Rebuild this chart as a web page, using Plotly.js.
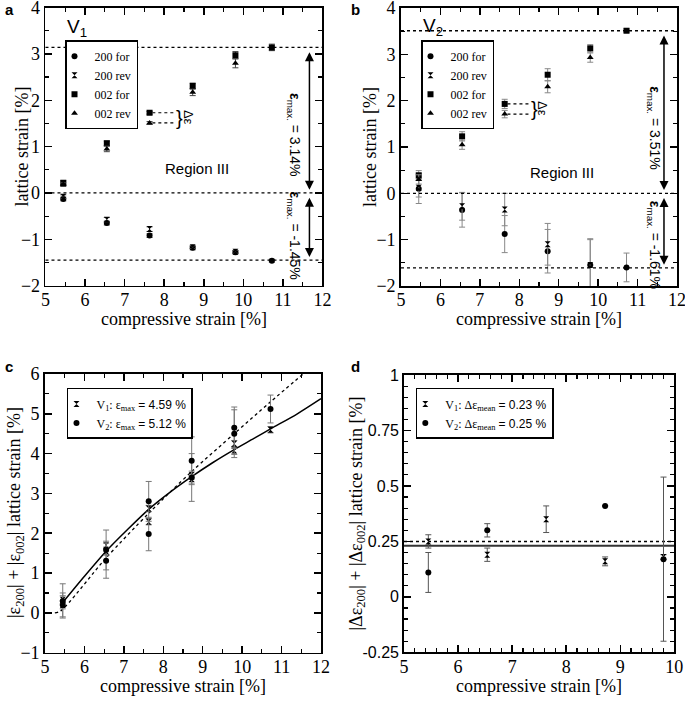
<!DOCTYPE html>
<html>
<head>
<meta charset="utf-8">
<script src="https://cdn.plot.ly/plotly-3.0.1.min.js"></script>
<style>html,body{margin:0;padding:0;background:#fff;}#chart{width:685px;height:704px;}</style>
</head>
<body>
<div id="chart"></div>
<script>
// ---------- data ----------
const strainX = [5.45, 6.55, 7.63, 8.72, 9.80, 10.72];
const strainXrev = [5.45, 6.55, 7.63, 8.72, 9.80];

// panel a (V1)
const a200for = [-0.13, -0.65, -0.92, -1.18, -1.28, -1.46];
const a200forErr = [0.04, 0.04, 0.04, 0.03, 0.03, 0.03];
const a200rev = [-0.08, -0.58, -0.78, -1.17, -1.27];
const a200revErr = [0.04, 0.05, 0.05, 0.03, 0.03];
const a002for = [0.22, 1.07, 1.73, 2.31, 2.97, 3.14];
const a002forErr = [0.04, 0.05, 0.03, 0.06, 0.08, 0.07];
const a002rev = [0.18, 0.95, 1.51, 2.17, 2.80];
const a002revErr = [0.04, 0.06, 0.03, 0.07, 0.10];

// panel b (V2)
const b200for = [0.10, -0.36, -0.88, -1.25, -1.55, -1.60];
const b200forErr = [0.32, 0.37, 0.40, 0.47, 0.55, 0.31];
const b200rev = [0.12, -0.28, -0.35, -1.10, -1.55];
const b200revErr = [0.20, 0.30, 0.35, 0.45, 0.57];
const b002for = [0.39, 1.23, 1.93, 2.56, 3.13, 3.51];
const b002forErr = [0.10, 0.10, 0.10, 0.13, 0.08, 0.04];
const b002rev = [0.30, 1.05, 1.71, 2.30, 2.93];
const b002revErr = [0.10, 0.10, 0.08, 0.13, 0.10];

// reference values (epsilon max)
const aMax = [3.14, 0, -1.45];
const bMax = [3.51, 0, -1.61];

// panel c: |e200|+|e002|
const cX = [5.45, 5.45, 6.55, 6.55, 7.63, 7.63, 8.72, 8.72, 9.80, 9.80, 10.72];
const cV1 = [0.33, 0.20, 1.70, 1.55, 2.62, 2.29, 3.46, 3.36, 4.25, 4.08, 4.60];
const cV1Err = [0.10, 0.10, 0.10, 0.10, 0.08, 0.08, 0.10, 0.10, 0.08, 0.10, 0.08];
const cV2 = [0.30, 0.20, 1.58, 1.31, 2.80, 1.98, 3.82, 3.40, 4.65, 4.50, 5.12];
const cV2Err = [0.43, 0.30, 0.50, 0.44, 0.50, 0.42, 0.60, 0.60, 0.52, 0.60, 0.35];
const fitV1x = [5.40, 6.00, 6.55, 7.10, 7.63, 8.20, 8.72, 9.25, 9.80, 10.30, 10.72, 11.40, 12.00];
const fitV1y = [0.20, 0.92, 1.55, 2.10, 2.60, 3.05, 3.42, 3.77, 4.10, 4.38, 4.62, 5.00, 5.38];
const fitV2x = [5.25, 5.40, 6.55, 7.63, 8.72, 9.80, 10.72, 11.55];
const fitV2y = [0.00, 0.05, 1.38, 2.50, 3.55, 4.50, 5.30, 6.00];

// panel d: |de200|+|de002|
const dX = [5.45, 6.54, 7.63, 8.72, 9.80];
const dV1 = [0.25, 0.19, 0.35, 0.16, 0.18];
const dV1Err = [0.03, 0.03, 0.06, 0.02, 0.01];
const dV2 = [0.11, 0.30, 0.84, 0.41, 0.17];
const dV2Err = [0.09, 0.03, 0.08, 0.00, 0.37];
const dMean = [0.23, 0.25];

const dTickVals = [-0.25, 0, 0.25, 0.5, 0.75, 1];
const dTickText = ['-0.25', '0', '0.25', '0.5', '0.75', '1'];

// ---------- styling ----------
const serif = 'Liberation Serif';
const sans = 'Liberation Sans';

function err(arr, color) {
  return {type: 'data', array: arr, visible: true, color: color, thickness: 1, width: 3};
}
function pts(x, y, e, sym, name, xa, ya, leg, ecol, size) {
  return {x: x, y: y, type: 'scatter', mode: 'markers', name: name, xaxis: xa, yaxis: ya, legend: leg,
    marker: {symbol: sym, size: size || 6, color: 'black', line: {width: 0}},
    error_y: err(e, ecol)};
}

const traces = [
  pts(strainX, a200for, a200forErr, 'circle', '200 for', 'x', 'y', 'legend', '#444'),
  pts(strainXrev, a200rev, a200revErr, 'hourglass', '200 rev', 'x', 'y', 'legend', '#444'),
  pts(strainX, a002for, a002forErr, 'square', '002 for', 'x', 'y', 'legend', '#444'),
  pts(strainXrev, a002rev, a002revErr, 'triangle-up', '002 rev', 'x', 'y', 'legend', '#444'),

  pts(strainX, b200for, b200forErr, 'circle', '200 for', 'x2', 'y2', 'legend2', '#888'),
  pts(strainXrev, b200rev, b200revErr, 'hourglass', '200 rev', 'x2', 'y2', 'legend2', '#888'),
  pts(strainX, b002for, b002forErr, 'square', '002 for', 'x2', 'y2', 'legend2', '#888'),
  pts(strainXrev, b002rev, b002revErr, 'triangle-up', '002 rev', 'x2', 'y2', 'legend2', '#888'),

  {x: fitV1x, y: fitV1y, type: 'scatter', mode: 'lines', line: {shape: 'spline', smoothing: 0.8, color: 'black', width: 1.5}, xaxis: 'x3', yaxis: 'y3', showlegend: false},
  {x: fitV2x, y: fitV2y, type: 'scatter', mode: 'lines', line: {shape: 'spline', smoothing: 0.8, color: 'black', width: 1.3, dash: '3px,3px'}, xaxis: 'x3', yaxis: 'y3', showlegend: false},
  pts(cX, cV1, cV1Err, 'hourglass', 'V<sub>1</sub>: ε<sub>max</sub> <span style="font-family:Liberation Sans">= 4.59 %</span>', 'x3', 'y3', 'legend3', '#777'),
  pts(cX, cV2, cV2Err, 'circle', 'V<sub>2</sub>: ε<sub>max</sub> <span style="font-family:Liberation Sans">= 5.12 %</span>', 'x3', 'y3', 'legend3', '#777'),

  {x: [5, 10], y: [dMean[0], dMean[0]], type: 'scatter', mode: 'lines', line: {color: '#333', width: 2}, xaxis: 'x4', yaxis: 'y4', showlegend: false},
  {x: [5, 10], y: [dMean[1], dMean[1]], type: 'scatter', mode: 'lines', line: {color: 'black', width: 1.5, dash: '3px,3px'}, xaxis: 'x4', yaxis: 'y4', showlegend: false},
  pts(dX, dV1, dV1Err, 'hourglass', 'V<sub>1</sub>: Δε<sub>mean</sub> <span style="font-family:Liberation Sans">= 0.23 %</span>', 'x4', 'y4', 'legend4', '#555'),
  pts(dX, dV2, dV2Err, 'circle', 'V<sub>2</sub>: Δε<sub>mean</sub> <span style="font-family:Liberation Sans">= 0.25 %</span>', 'x4', 'y4', 'legend4', '#555')
];

function axis(domain, range, dtick, minor, anchor, extra) {
  const ax = {
    domain: domain, range: range, dtick: dtick, tick0: 0, anchor: anchor,
    showline: true, linecolor: 'black', linewidth: 1.8, mirror: 'ticks',
    ticks: 'inside', ticklen: 7, tickwidth: 1.5, tickcolor: 'black',
    minor: {ticks: 'inside', dtick: minor, ticklen: 4, tickwidth: 1.2, tickcolor: 'black', showgrid: false},
    showgrid: false, zeroline: false, ticklabeloverflow: 'allow',
    tickfont: {family: serif, size: 18, color: 'black'}
  };
  return Object.assign(ax, extra || {});
}
const xExtra = {ticklabelstandoff: -3};

const layout = {
  width: 685, height: 704, autosize: false,
  margin: {l: 0, r: 0, t: 0, b: 0},
  font: {family: serif, color: 'black'},
  paper_bgcolor: 'white', plot_bgcolor: 'white',
  xaxis: axis([0.0664, 0.4708], [5, 12], 1, 0.5, 'y', xExtra),
  yaxis: axis([0.5942, 0.9893], [-2, 4], 1, 0.5, 'x'),
  xaxis2: axis([0.5854, 0.9883], [5, 12], 1, 0.5, 'y2', xExtra),
  yaxis2: axis([0.5938, 0.9886], [-2, 4], 1, 0.5, 'x2'),
  xaxis3: axis([0.0657, 0.4686], [5, 12], 1, 0.5, 'y3', xExtra),
  yaxis3: axis([0.0729, 0.4688], [-1, 6], 1, 0.5, 'x3'),
  xaxis4: axis([0.5898, 0.9844], [5, 10], 1, 0.2, 'y4', xExtra),
  yaxis4: axis([0.0734, 0.4673], [-0.25, 1], 0.25, 0.05, 'x4',
    {tickmode: 'array', tickvals: dTickVals, ticktext: dTickText, tickfont: {family: sans, size: 16, color: 'black'}}),
  shapes: [],
  annotations: []
};
const legBase = {xanchor: 'left', yanchor: 'top', bordercolor: 'black', borderwidth: 1.5, bgcolor: 'white',
  font: {family: serif, size: 12, color: 'black'}, tracegroupgap: 0, indentation: -12, itemwidth: 30};
layout.legend = Object.assign({x: 0.0949, y: 0.943}, legBase);
layout.legend2 = Object.assign({x: 0.6146, y: 0.943}, legBase);
layout.legend3 = Object.assign({x: 0.0978, y: 0.449}, legBase);
layout.legend4 = Object.assign({x: 0.607, y: 0.449}, legBase);

// axis titles
const xTitle = 'compressive strain [%]';
[[xTitle, 184, 319, 0], [xTitle, 539, 319, 0], [xTitle, 183, 686, 0], [xTitle, 539, 686, 0],
 ['lattice strain [%]', 21, 146.5, -90],
 ['lattice strain [%]', 370, 147, -90],
 ['|ε<sub>200</sub>| + |ε<sub>002</sub>| lattice strain [%]', 15, 513, -90],
 ['|Δε<sub>200</sub>| + |Δε<sub>002</sub>| lattice strain [%]', 357, 513.5, -90]].forEach(t => {
  layout.annotations.push({xref: 'paper', yref: 'paper', x: t[1] / 685, y: 1 - t[2] / 704, xanchor: 'center', yanchor: 'middle',
    text: t[0], textangle: t[3], showarrow: false, font: {family: serif, size: 18, color: 'black'}});
});

// reference dotted lines
aMax.forEach(v => layout.shapes.push({type: 'line', xref: 'x domain', yref: 'y', x0: 0, x1: 1, y0: v, y1: v, line: {color: 'black', width: 1.3, dash: '3px,3px'}}));
bMax.forEach(v => layout.shapes.push({type: 'line', xref: 'x2 domain', yref: 'y2', x0: 0, x1: 1, y0: v, y1: v, line: {color: 'black', width: 1.3, dash: '3px,3px'}}));

// delta epsilon markers
function deltaEps(xr, yr, xs, top, bot) {
  layout.shapes.push({type: 'line', xref: xr, yref: yr, x0: xs + 0.07, x1: 8.3, y0: top, y1: top, line: {color: 'black', width: 1.2, dash: 'dot'}});
  layout.shapes.push({type: 'line', xref: xr, yref: yr, x0: xs + 0.07, x1: 8.3, y0: bot, y1: bot, line: {color: 'black', width: 1.2, dash: 'dot'}});
  layout.annotations.push({xref: xr, yref: yr, x: 8.38, y: (top + bot) / 2, text: '}', showarrow: false, font: {family: sans, size: 20, color: 'black'}});
  layout.annotations.push({xref: xr, yref: yr, x: 8.6, y: (top + bot) / 2, text: 'Δε', textangle: 90, showarrow: false, font: {family: sans, size: 13, color: 'black'}});
}
deltaEps('x', 'y', strainX[2], a002for[2], a002rev[2]);
deltaEps('x2', 'y2', strainX[2], b002for[2], b002rev[2]);

// double arrows
function dblArrow(xr, yr, x, y0, y1) {
  layout.annotations.push({xref: xr, yref: yr, axref: xr, ayref: yr, x: x, y: y1, ax: x, ay: y0, text: '',
    showarrow: true, arrowhead: 2, startarrowhead: 2, arrowside: 'end+start', arrowsize: 1.2, startarrowsize: 1.2, arrowwidth: 1.5, arrowcolor: 'black'});
}
dblArrow('x', 'y', 11.67, aMax[0] - 0.07, aMax[1] + 0.07);
dblArrow('x', 'y', 11.67, aMax[1] - 0.07, aMax[2] + 0.07);
dblArrow('x2', 'y2', 11.67, bMax[0] - 0.07, bMax[1] + 0.07);
dblArrow('x2', 'y2', 11.67, bMax[1] - 0.07, bMax[2] + 0.07);

function rotText(xr, yr, x, y, txt) {
  layout.annotations.push({xref: xr, yref: yr, x: x, y: y, text: txt, textangle: 90, showarrow: false,
    font: {family: sans, size: 14, color: 'black'}});
}
rotText('x', 'y', 11.28, 1.25, '<b>ε</b><sub>max.</sub> = ' + aMax[0].toFixed(2) + '%');
rotText('x', 'y', 11.28, -0.92, '<b>ε</b><sub>max.</sub> = ' + aMax[2].toFixed(2) + '%');
rotText('x2', 'y2', 11.4, 1.4, '<b>ε</b><sub>max.</sub> = ' + bMax[0].toFixed(2) + '%');
rotText('x2', 'y2', 11.4, -1.12, '<b>ε</b><sub>max.</sub> = ' + bMax[2].toFixed(2) + '%');

// labels
layout.annotations.push({xref: 'x', yref: 'y', x: 8.83, y: 0.53, text: 'Region III', showarrow: false, font: {family: sans, size: 15, color: 'black'}});
layout.annotations.push({xref: 'x2', yref: 'y2', x: 9.08, y: 0.45, text: 'Region III', showarrow: false, font: {family: sans, size: 15, color: 'black'}});
layout.annotations.push({xref: 'x', yref: 'y', x: 5.8, y: 3.55, text: 'V<sub>1</sub>', showarrow: false, font: {family: sans, size: 19, color: 'black'}});
layout.annotations.push({xref: 'x2', yref: 'y2', x: 5.8, y: 3.6, text: 'V<sub>2</sub>', showarrow: false, font: {family: sans, size: 19, color: 'black'}});

// panel letters
[['a', 9, 10], ['b', 355, 10], ['c', 9, 366], ['d', 355, 366]].forEach(p => {
  layout.annotations.push({xref: 'paper', yref: 'paper', x: p[1] / 685, y: 1 - p[2] / 704, xanchor: 'center', yanchor: 'middle',
    text: '<b>' + p[0] + '</b>', showarrow: false, font: {family: sans, size: 15, color: 'black'}});
});

Plotly.newPlot('chart', traces, layout, {staticPlot: true, displayModeBar: false});
</script>
</body>
</html>
